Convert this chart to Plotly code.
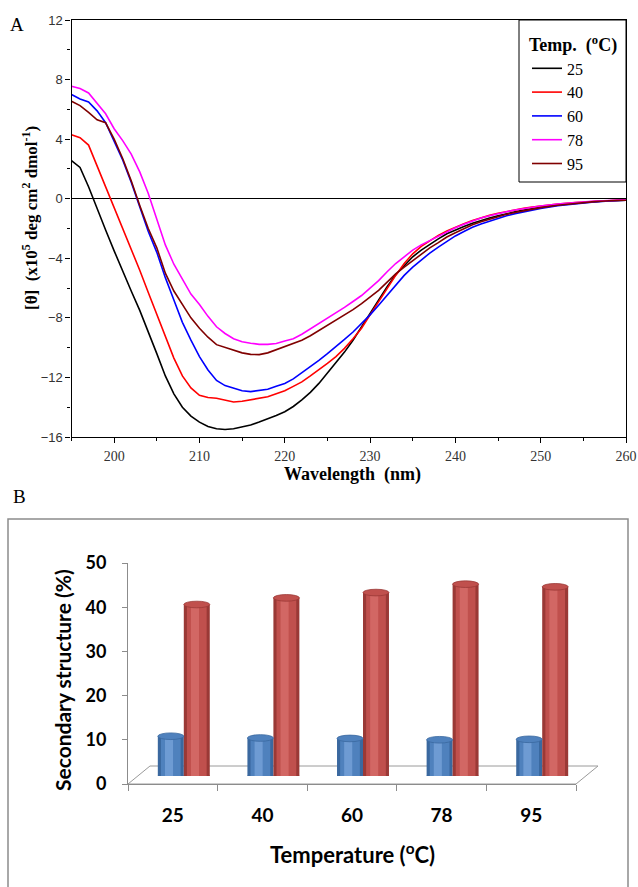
import plotly.graph_objects as go

# ---------------- Panel A data (CD spectra) ----------------
wavelength = list(range(195, 251)) + [252, 254, 256, 258, 260]

cd_25 = [2.55, 2.1, 0.8, -0.7, -2.1, -3.5, -4.9, -6.2, -7.5, -8.9,
         -10.4, -11.9, -13.1, -14.0, -14.6, -15.0, -15.3, -15.45, -15.5, -15.45,
         -15.35, -15.2, -15.0, -14.8, -14.55, -14.3, -13.95, -13.5, -13.0, -12.4,
         -11.7, -11.0, -10.3, -9.5, -8.6, -7.7, -6.8, -5.9, -5.1, -4.5,
         -3.9, -3.45, -3.05, -2.7, -2.35, -2.08, -1.86, -1.65, -1.46, -1.3,
         -1.15, -1.0, -0.88, -0.76, -0.66, -0.57, -0.42, -0.3, -0.2, -0.14, -0.1]
cd_40 = [4.3, 4.1, 3.6, 2.2, 0.8, -0.5, -1.9, -3.3, -4.8, -6.3,
         -7.8, -9.2, -10.7, -11.9, -12.7, -13.2, -13.35, -13.4, -13.55, -13.65,
         -13.6, -13.5, -13.4, -13.3, -13.1, -12.9, -12.6, -12.3, -11.9, -11.5,
         -11.05, -10.6, -10.05, -9.4, -8.7, -7.8, -6.9, -6.0, -5.15, -4.35,
         -3.7, -3.2, -2.8, -2.46, -2.17, -1.9, -1.68, -1.47, -1.28, -1.12,
         -0.98, -0.86, -0.75, -0.65, -0.56, -0.48, -0.35, -0.25, -0.18, -0.12, -0.08]
cd_60 = [7.0, 6.7, 6.5, 5.9, 5.1, 3.9, 2.6, 1.1, -0.6, -2.2,
         -3.6, -5.3, -6.8, -8.3, -9.5, -10.6, -11.5, -12.2, -12.55, -12.75,
         -12.9, -12.95, -12.9, -12.8, -12.6, -12.4, -12.1, -11.7, -11.3, -10.85,
         -10.4, -9.95, -9.45, -8.95, -8.4, -7.8, -7.15, -6.5, -5.8, -5.15,
         -4.6, -4.1, -3.65, -3.25, -2.85, -2.5, -2.2, -1.92, -1.7, -1.5,
         -1.32, -1.15, -1.0, -0.87, -0.75, -0.65, -0.47, -0.33, -0.23, -0.15, -0.1]
cd_78 = [7.55, 7.4, 7.1, 6.4, 5.7, 4.7, 3.9, 3.0, 1.8, 0.35,
         -1.45, -3.1, -4.4, -5.4, -6.4, -7.1, -7.9, -8.6, -9.05, -9.4,
         -9.6, -9.7, -9.78, -9.78, -9.72, -9.55, -9.4, -9.1, -8.75, -8.4,
         -8.05, -7.7, -7.3, -6.9, -6.5, -6.0, -5.5, -4.9, -4.35, -3.9,
         -3.45, -3.1, -2.8, -2.5, -2.2, -1.95, -1.72, -1.5, -1.3, -1.15,
         -1.0, -0.87, -0.76, -0.66, -0.57, -0.49, -0.36, -0.26, -0.18, -0.12, -0.08]
cd_95 = [6.55, 6.25, 5.8, 5.3, 5.1, 4.0, 2.7, 1.2, -0.45, -2.0,
         -3.3, -5.0, -6.2, -7.1, -8.0, -8.7, -9.3, -9.8, -10.0, -10.15,
         -10.35, -10.45, -10.47, -10.35, -10.15, -9.95, -9.75, -9.5, -9.2, -8.85,
         -8.5, -8.2, -7.85, -7.45, -7.05, -6.6, -6.15, -5.6, -5.05, -4.6,
         -4.15, -3.7, -3.3, -2.95, -2.57, -2.28, -2.0, -1.75, -1.55, -1.37,
         -1.2, -1.05, -0.92, -0.8, -0.69, -0.6, -0.44, -0.31, -0.21, -0.14, -0.1]

series_names = ["25", "40", "60", "78", "95"]
series_values = [cd_25, cd_40, cd_60, cd_78, cd_95]
series_colors = ["#000000", "#FF0000", "#0000FF", "#FF00FF", "#800000"]

# ---------------- Panel B data (secondary structure) ----------------
temperatures = ["25", "40", "60", "78", "95"]
blue_pct = [9.0, 8.6, 8.5, 8.2, 8.3]
red_pct = [38.8, 40.3, 41.5, 43.4, 42.8]

W, H = 638, 887
def px(x):
    return x / W
def py(y):
    return 1 - y / H

fig = go.Figure()

# Panel A traces
for name, vals, col in zip(series_names, series_values, series_colors):
    fig.add_trace(go.Scatter(x=wavelength, y=vals, mode="lines", name=name,
                             line=dict(color=col, width=1.6),
                             xaxis="x", yaxis="y"))

# Panel B: invisible trace to hold categories on visible axis
fig.add_trace(go.Scatter(x=temperatures, y=blue_pct, mode="markers",
                         marker=dict(opacity=0), showlegend=False,
                         hoverinfo="skip", xaxis="x2", yaxis="y2"))

bw = 0.29
def cylinder(values, offset, edge, base, light):
    fig.add_trace(go.Bar(x=temperatures, y=values, offset=offset, width=bw,
                         marker=dict(color=edge, line=dict(width=0)),
                         showlegend=False, xaxis="x3", yaxis="y3"))
    fig.add_trace(go.Bar(x=temperatures, y=values, offset=offset + 0.035, width=bw - 0.07,
                         marker=dict(color=base, line=dict(width=0)),
                         showlegend=False, xaxis="x3", yaxis="y3"))
    fig.add_trace(go.Bar(x=temperatures, y=values, offset=offset + 0.08, width=0.09,
                         marker=dict(color=light, line=dict(width=0)),
                         showlegend=False, xaxis="x3", yaxis="y3"))
    shapes = []
    for i, v in enumerate(values):
        shapes.append(dict(type="circle", xref="x3", yref="y3",
                           x0=i + offset, x1=i + offset + bw, y0=-0.75, y1=0.75,
                           fillcolor=edge, line=dict(width=0), layer="below"))
        shapes.append(dict(type="circle", xref="x3", yref="y3",
                           x0=i + offset, x1=i + offset + bw, y0=v - 0.75, y1=v + 0.75,
                           fillcolor=base, line=dict(color=edge, width=0.8), layer="above"))
    return shapes

shapes = []
# Legend frame (opaque box in the top-right corner of panel A)
shapes.append(dict(type="rect", xref="paper", yref="paper",
                   x0=px(519), x1=px(626), y0=py(182), y1=py(20),
                   line=dict(color="black", width=1), fillcolor="white", layer="above"))
shapes += cylinder(blue_pct, -bw, "#3A689F", "#4F81BD", "#6E9BD3")
shapes += cylinder(red_pct, 0.0, "#9A3936", "#C0504D", "#D26764")

# Floor parallelogram
floor = "M {:.4f},{:.4f} L {:.4f},{:.4f} L {:.4f},{:.4f} L {:.4f},{:.4f} Z".format(
    px(128), py(784), px(576), py(784), px(598), py(766), px(150), py(766))
shapes.insert(0, dict(type="path", xref="paper", yref="paper", path=floor,
                      line=dict(color="#9A9A9A", width=1), fillcolor="rgba(0,0,0,0)",
                      layer="below"))
# Panel B frame
shapes.append(dict(type="rect", xref="paper", yref="paper",
                   x0=px(8), x1=px(628), y0=py(892), y1=py(519),
                   line=dict(color="#8C8C8C", width=1.5), fillcolor="rgba(0,0,0,0)"))

serif = "Liberation Serif"
sans = "Lato"

def ann(text, x, y, font, angle=0):
    return dict(text=text, x=px(x), y=py(y), xref="paper", yref="paper",
                showarrow=False, xanchor="center", yanchor="middle",
                textangle=angle, font=font)

annotations = [
    ann("A", 17, 24, dict(family=serif, size=19, color="black")),
    ann("B", 19, 496, dict(family=serif, size=19, color="black")),
    ann("<b>[θ]&nbsp; (x10<sup>5</sup> deg cm<sup>2</sup> dmol<sup>-1</sup>)</b>", 30, 218,
        dict(family=serif, size=17, color="black"), -90),
    ann("<b>Wavelength&nbsp; (nm)</b>", 352, 475, dict(family=serif, size=18, color="black")),
    ann("<b>Secondary structure (%)</b>", 62, 680, dict(family=sans, size=21, color="black"), -90),
    ann("<b>Temperature (<sup>o</sup>C)</b>", 352, 853, dict(family=sans, size=22, color="black")),
]

fig.update_layout(
    template="none",
    width=W, height=H,
    margin=dict(l=0, r=0, t=0, b=0, autoexpand=False),
    paper_bgcolor="white", plot_bgcolor="rgba(0,0,0,0)",
    barmode="overlay",
    showlegend=True,
    legend=dict(x=px(527), y=py(28), xanchor="left", yanchor="top",
                bgcolor="rgba(0,0,0,0)", borderwidth=0,
                font=dict(family=serif, size=16, color="black"),
                title=dict(text="<b>Temp.&nbsp; (<sup>o</sup>C)</b>",
                           font=dict(family=serif, size=18, color="black"), side="top"),
                tracegroupgap=0),
    xaxis=dict(domain=[px(71.5), px(626)], anchor="y", range=[195, 260], automargin=False,
               tick0=200, dtick=10, ticks="outside", ticklen=5, tickwidth=1,
               tickcolor="black", showline=True, linecolor="black", linewidth=1.3,
               mirror=True, showgrid=False, zeroline=False,
               tickfont=dict(family=serif, size=14, color="#333333"),
               ticklabelstandoff=1,
               minor=dict(dtick=5, tick0=195, ticks="outside", ticklen=3,
                          tickcolor="black", showgrid=False)),
    yaxis=dict(domain=[py(437), py(20)], anchor="x", range=[-16, 12], automargin=False,
               tick0=-16, dtick=4, ticks="outside", ticklen=5, tickwidth=1,
               tickcolor="black", showline=True, linecolor="black", linewidth=1.3,
               mirror=True, showgrid=False, zeroline=True, zerolinecolor="black",
               zerolinewidth=1.2,
               tickfont=dict(family="Liberation Sans", size=13, color="#333333"),
               minor=dict(dtick=2, ticks="outside", ticklen=3, tickcolor="black",
                          showgrid=False)),
    xaxis2=dict(domain=[px(128), px(576)], anchor="y2", type="category", automargin=False,
                categoryorder="array", categoryarray=temperatures,
                range=[-0.5, 4.5], tickson="boundaries", ticks="outside",
                ticklen=6, tickcolor="#8C8C8C", showline=True, linecolor="#8C8C8C",
                linewidth=1, showgrid=False, zeroline=False,
                tickfont=dict(family=sans, size=19, color="black", weight="bold"),
                ticklabelstandoff=14),
    yaxis2=dict(domain=[py(784), py(563)], anchor="x2", range=[0, 50], automargin=False,
                tickvals=[0, 10, 20, 30, 40, 50], ticks="outside", ticklen=5,
                tickcolor="#8C8C8C", showline=True, linecolor="#8C8C8C", linewidth=1,
                showgrid=False, zeroline=False,
                tickfont=dict(family=sans, size=18, color="black", weight="bold"),
                ticklabelstandoff=12),
    xaxis3=dict(domain=[px(139), px(587)], anchor="y3", type="category", automargin=False,
                categoryorder="array", categoryarray=temperatures,
                range=[-0.5, 4.5], visible=False),
    yaxis3=dict(domain=[py(776), py(555)], anchor="x3", range=[0, 50], visible=False,
                automargin=False),
    shapes=shapes,
    annotations=annotations,
)

fig.write_html("out.html", config={"displayModeBar": False},
               post_script="document.body.style.margin='0px';document.body.style.padding='0px';")
